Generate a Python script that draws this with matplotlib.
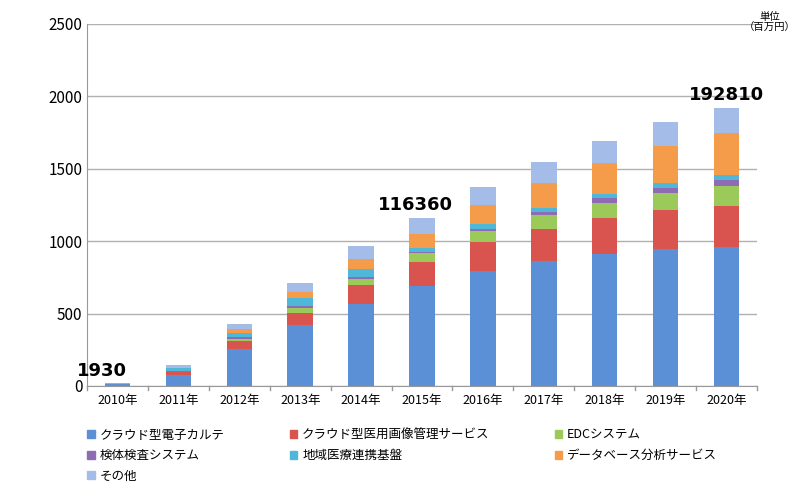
import numpy as np
import matplotlib.pyplot as plt
from matplotlib.patches import Patch

plt.rcParams['font.family'] = ['Noto Sans CJK JP', 'DejaVu Sans']

years = ['2010年', '2011年', '2012年', '2013年', '2014年', '2015年', '2016年',
         '2017年', '2018年', '2019年', '2020年']
series_names = ['クラウド型電子カルテ', 'クラウド型医用画像管理サービス', 'EDCシステム',
                '検体検査システム', '地域医療連携基盤', 'データベース分析サービス', 'その他']
# cumulative tops
tops = {
    'クラウド型電子カルテ':       [12, 76, 258, 421, 569, 691, 794, 863, 912, 944, 958],
    'クラウド型医用画像管理サービス': [14, 94, 311, 506, 695, 856, 994, 1087, 1163, 1215, 1243],
    'EDCシステム':              [15, 99, 327, 541, 739, 916, 1070, 1181, 1266, 1335, 1381],
    '検体検査システム':            [16, 103, 336, 550, 753, 928, 1087, 1202, 1296, 1370, 1420],
    '地域医療連携基盤':            [17, 122, 368, 610, 810, 955, 1116, 1232, 1328, 1402, 1455],
    'データベース分析サービス':       [18, 127, 391, 649, 877, 1052, 1250, 1404, 1542, 1655, 1750],
    'その他':                   [19, 145, 426, 714, 967, 1160, 1377, 1547, 1692, 1821, 1922],
}
colors = ['#5b8fd6', '#d9534f', '#9bc95a', '#8e6bb5', '#4fb8d8', '#f59c4a', '#a3bde8']
labels = {0: '1930', 5: '116360', 10: '192810'}

fig = plt.figure(figsize=(8, 5), dpi=100)
ax = fig.add_axes([0.109, 0.228, 0.837, 0.724])
x = np.arange(len(years))
prev = np.zeros(len(years))
for name, c in zip(series_names, colors):
    top = np.array(tops[name])
    ax.bar(x, top - prev, bottom=prev, width=0.42, color=c)
    prev = top

for i, t in labels.items():
    ax.text(x[i] - (0.25 if i == 0 else 0.1 if i == 5 else 0), tops['その他'][i] + 25, t,
            ha='center', va='bottom', fontsize=13, fontweight='bold', family='DejaVu Sans')

ax.set_ylim(0, 2500)
ax.set_xlim(-0.5, len(years) - 0.5)
ax.set_yticks(range(0, 2501, 500))
ax.set_xticks(x)
ax.set_xticklabels(years, fontsize=9)
ax.tick_params(axis='y', labelsize=11, length=0)
ax.tick_params(axis='x', length=0, pad=6)
ax.yaxis.grid(True, color='#b0b0b0', linewidth=1)
ax.set_axisbelow(True)
for s in ['top', 'right']:
    ax.spines[s].set_visible(False)
ax.spines['left'].set_color('#999999')
ax.spines['bottom'].set_color('#999999')
for xi in np.arange(-0.5, len(years), 1.0):
    ax.plot([xi, xi], [0, -25], color='#999999', lw=1, clip_on=False)

fig.text(0.962, 0.955, '単位\n（百万円）', ha='center', va='center', fontsize=7.5, linespacing=1.1)

order = [0, 3, 6, 1, 4, 2, 5]
handles = [Patch(color=colors[k]) for k in order]
fig.legend(handles, [series_names[k] for k in order], loc='upper left',
           bbox_to_anchor=(0.095, 0.165), ncol=3,
           frameon=False, fontsize=9, handlelength=0.6, handleheight=0.6,
           columnspacing=5.2, labelspacing=0.6, handletextpad=0.4)

plt.savefig('out.png', dpi=100)
